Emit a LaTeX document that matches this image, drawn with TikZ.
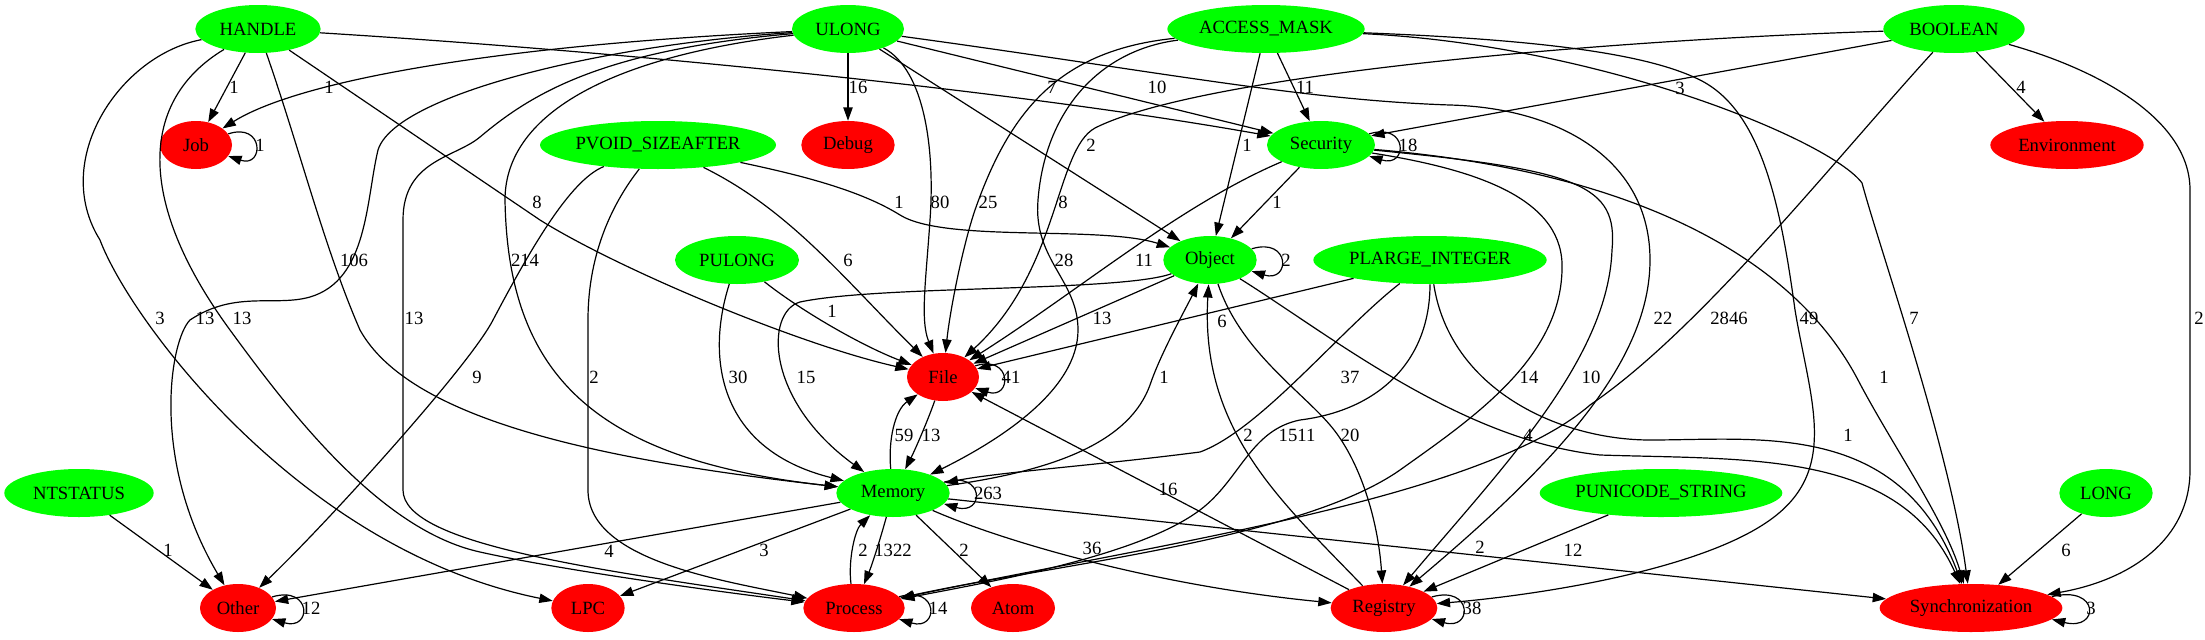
\documentclass[tikz,border=0pt]{standalone}
\usepackage{fontspec}
\setmainfont{Liberation Serif}
\usetikzlibrary{shapes.geometric,arrows.meta}
\definecolor{gvgreen}{RGB}{0,255,0}
\definecolor{gvred}{RGB}{255,0,0}
\tikzset{
  kind/.style={ellipse,minimum height=36pt,inner sep=0pt,font=\fontsize{14pt}{16pt}\selectfont},
  typ/.style={kind,fill=gvgreen},
  cat/.style={kind,fill=gvred},
  dep/.style={line width=0.9pt,-{Triangle[length=10pt,width=7pt]}},
  num/.style={inner sep=0pt,font=\fontsize{14pt}{16pt}\selectfont},
}
\begin{document}
\begin{tikzpicture}[x=0.75pt,y=-0.75pt]
\useasboundingbox (0,0) rectangle (2205,639);

% types (green) and categories (red), one row per rank
\node[typ,minimum width=94pt] (handle) at (258,29) {HANDLE};
\node[typ,minimum width=84pt] (ulong) at (848,29) {ULONG};
\node[typ,minimum width=148pt] (accessmask) at (1266,29) {ACCESS\_MASK};
\node[typ,minimum width=106pt] (boolean) at (1954,29) {BOOLEAN};

\node[cat,minimum width=54pt] (job) at (196,145) {Job};
\node[typ,minimum width=177pt] (pvoid) at (658,145) {PVOID\_SIZEAFTER};
\node[cat,minimum width=70pt] (debug) at (848,145) {Debug};
\node[typ,minimum width=81pt] (security) at (1321,145) {Security};
\node[cat,minimum width=115pt] (environment) at (2067,145) {Environment};

\node[typ,minimum width=93pt] (pulong) at (737,260) {PULONG};
\node[typ,minimum width=70pt] (object) at (1210,260) {Object};
\node[typ,minimum width=175pt] (plarge) at (1430,260) {PLARGE\_INTEGER};

\node[cat,minimum width=54pt] (file) at (943,377) {File};

\node[typ,minimum width=112pt] (ntstatus) at (79,493) {NTSTATUS};
\node[typ,minimum width=85pt] (memory) at (893,493) {Memory};
\node[typ,minimum width=182pt] (punicode) at (1661,493) {PUNICODE\_STRING};
\node[typ,minimum width=70pt] (long) at (2106,493) {LONG};

\node[cat,minimum width=57pt] (other) at (238,608) {Other};
\node[cat,minimum width=55pt] (lpc) at (588,608) {LPC};
\node[cat,minimum width=76pt] (process) at (854,608) {Process};
\node[cat,minimum width=63pt] (atom) at (1013,608) {Atom};
\node[cat,minimum width=80pt] (registry) at (1384,608) {Registry};
\node[cat,minimum width=137pt] (sync) at (1971,608) {Synchronization};

% HANDLE
\draw[dep] (handle) -- (job) node[num] (l1) at (234,87) {1};
\draw[dep] (handle) .. controls (600,50) and (1000,88) .. (security) node[num] (l2) at (1052,87) {7};
\draw[dep] (handle) -- (540,220) .. controls (620,270) and (800,345) .. (file) node[num] (l3) at (537,202) {8};
\draw[dep] (handle) .. controls (300,150) and (325,250) .. (360,330) .. controls (410,420) and (600,460) .. (memory) node[num] (l4) at (354,260) {106};
\draw[dep] (handle) .. controls (120,55) and (50,160) .. (100,240) .. controls (130,320) and (300,550) .. (lpc) node[num] (l5) at (160,318) {3};
\draw[dep] (handle) .. controls (140,100) and (135,200) .. (230,330) .. controls (290,412) and (380,530) .. (480,552) .. controls (560,570) and (720,592) .. (process) node[num] (l6) at (242,318) {13};

% ULONG
\draw[dep] (ulong) .. controls (500,45) and (300,80) .. (job) node[num] (l7) at (329,87) {1};
\draw[dep] (ulong) .. controls (600,45) and (395,95) .. (378,150) .. controls (366,200) and (368,280) .. (310,297) .. controls (275,307) and (235,290) .. (190,320) .. controls (170,340) and (150,460) .. (other) node[num] (l8) at (205,318) {13};
\draw[dep] (ulong) .. controls (620,55) and (505,110) .. (505,200) .. controls (508,380) and (600,460) .. (memory) node[num] (l9) at (525,260) {214};
\draw[dep] (ulong) .. controls (600,50) and (530,95) .. (480,137) .. controls (455,158) and (403,160) .. (403,220) -- (403,490) .. controls (403,545) and (600,570) .. (process) node[num] (l10) at (414,318) {13};
\draw[dep] (ulong) -- (debug) node[num] (l11) at (858,87) {16};
\draw[dep] (ulong) .. controls (925,70) and (935,150) .. (930,220) .. controls (926,280) and (920,320) .. (file) node[num] (l12) at (940,202) {80};
\draw[dep] (ulong) -- (object) node[num] (l13) at (1091,145) {2};
\draw[dep] (ulong) -- (security) node[num] (l14) at (1157,87) {10};
\draw[dep] (ulong) .. controls (1150,70) and (1300,100) .. (1450,105) .. controls (1560,108) and (1650,160) .. (1650,260) .. controls (1650,360) and (1560,460) .. (registry) node[num] (l15) at (1663,318) {22};

% ACCESS_MASK
\draw[dep] (accessmask) -- (security) node[num] (l16) at (1305,87) {11};
\draw[dep] (accessmask) -- (object) node[num] (l17) at (1247,145) {1};
\draw[dep] (accessmask) .. controls (1060,50) and (1010,110) .. (975,210) .. controls (963,245) and (950,310) .. (file) node[num] (l18) at (988,202) {25};
\draw[dep] (accessmask) .. controls (1100,50) and (1045,110) .. (1038,200) .. controls (1033,260) and (1078,280) .. (1078,330) .. controls (1078,390) and (1000,440) .. (memory) node[num] (l19) at (1064,260) {28};
\draw[dep] (accessmask) .. controls (1550,40) and (1650,55) .. (1700,80) .. controls (1760,110) and (1780,200) .. (1795,310) .. controls (1810,400) and (1840,470) .. (1770,520) .. controls (1700,570) and (1540,595) .. (registry) node[num] (l20) at (1809,318) {49};
\draw[dep] (accessmask) .. controls (1600,45) and (1830,140) .. (1862,183) .. controls (1880,250) and (1950,450) .. (sync) node[num] (l21) at (1914,318) {7};

% BOOLEAN
\draw[dep] (boolean) -- (security) node[num] (l22) at (1680,88) {3};
\draw[dep] (boolean) -- (environment) node[num] (l23) at (2021,87) {4};
\draw[dep] (boolean) .. controls (1600,40) and (1200,75) .. (1095,128) .. controls (1055,150) and (1060,270) .. (file) node[num] (l24) at (1063,202) {8};
\draw[dep] (boolean) .. controls (1830,165) and (1700,330) .. (1590,405) .. controls (1480,500) and (1150,545) .. (process) node[num] (l25) at (1729,318) {2846};
\draw[dep] (boolean) .. controls (2100,70) and (2190,120) .. (2190,190) -- (2190,470) .. controls (2190,540) and (2130,580) .. (sync) node[num] (l26) at (2199,318) {2};

% self loops
\draw[dep] (job.19) .. controls +(36,-12) and +(36,12) .. (job.-19) node[num] (l27) at (260,145) {1};
\draw[dep] (security.13) .. controls +(39,-12) and +(39,12) .. (security.-13) node[num] (l28) at (1408,145) {18};
\draw[dep] (object.15) .. controls +(39,-12) and +(39,12) .. (object.-15) node[num] (l29) at (1286,260) {2};
\draw[dep] (file.19) .. controls +(37,-12) and +(37,12) .. (file.-19) node[num] (l30) at (1011,377) {41};
\draw[dep] (memory.12) .. controls +(41,-12) and +(41,12) .. (memory.-12) node[num] (l31) at (988,493) {263};
\draw[dep] (other.18) .. controls +(40,-12) and +(40,12) .. (other.-18) node[num] (l32) at (311,608) {12};
\draw[dep] (process.14) .. controls +(40,-12) and +(40,12) .. (process.-14) node[num] (l33) at (938,608) {14};
\draw[dep] (registry.13) .. controls +(41,-12) and +(41,12) .. (registry.-13) node[num] (l34) at (1472,608) {38};
\draw[dep] (sync.8) .. controls +(48,-12) and +(48,12) .. (sync.-8) node[num] (l35) at (2091,608) {3};

% PVOID_SIZEAFTER
\draw[dep] (pvoid) .. controls (800,175) and (860,190) .. (900,215) .. controls (945,243) and (1100,225) .. (object) node[num] (l36) at (899,202) {1};
\draw[dep] (pvoid) .. controls (790,210) and (845,280) .. (file) node[num] (l37) at (848,260) {6};
\draw[dep] (pvoid) .. controls (570,180) and (530,250) .. (493,320) .. controls (470,365) and (330,520) .. (other) node[num] (l38) at (477,377) {9};
\draw[dep] (pvoid) .. controls (615,200) and (588,250) .. (588,320) -- (588,490) .. controls (588,560) and (720,580) .. (process) node[num] (l39) at (594,377) {2};

% Security
\draw[dep] (security) -- (object) node[num] (l40) at (1277,202) {1};
\draw[dep] (security) .. controls (1180,205) and (1080,290) .. (file) node[num] (l41) at (1144,260) {11};
\draw[dep] (security) .. controls (1480,170) and (1565,200) .. (1562,270) .. controls (1560,360) and (1470,420) .. (1400,470) .. controls (1300,540) and (1050,565) .. (process) node[num] (l42) at (1529,377) {14};
\draw[dep] (security) .. controls (1580,170) and (1618,185) .. (1612,250) .. controls (1608,360) and (1500,470) .. (registry) node[num] (l43) at (1591,377) {10};
\draw[dep] (security) .. controls (1620,170) and (1790,250) .. (1858,380) .. controls (1892,445) and (1945,520) .. (sync) node[num] (l44) at (1884,377) {1};

% Object
\draw[dep] (object) -- (file) node[num] (l45) at (1102,318) {13};
\draw[dep] (object) .. controls (1120,292) and (880,285) .. (800,302) .. controls (765,312) and (765,400) .. (memory) node[num] (l46) at (806,377) {15};
\draw[dep] (object) .. controls (1240,350) and (1300,390) .. (1330,425) .. controls (1360,460) and (1378,520) .. (registry) node[num] (l47) at (1350,435) {20};
\draw[dep] (object) .. controls (1330,335) and (1460,440) .. (1600,455) .. controls (1750,460) and (1900,450) .. (sync) node[num] (l48) at (1528,435) {4};

% PULONG and PLARGE_INTEGER
\draw[dep] (pulong) .. controls (800,310) and (860,345) .. (file) node[num] (l49) at (832,311) {1};
\draw[dep] (pulong) .. controls (705,360) and (720,450) .. (memory) node[num] (l50) at (738,377) {30};
\draw[dep] (plarge) -- (file) node[num] (l51) at (1222,321) {6};
\draw[dep] (plarge) .. controls (1340,330) and (1260,430) .. (1200,452) .. controls (1100,465) and (1000,472) .. (memory) node[num] (l52) at (1350,377) {37};
\draw[dep] (plarge) .. controls (1430,360) and (1380,410) .. (1300,420) .. controls (1250,430) and (1240,480) .. (1200,510) .. controls (1140,555) and (1000,580) .. (process) node[num] (l53) at (1297,435) {1511};
\draw[dep] (plarge) .. controls (1450,390) and (1560,440) .. (1650,440) .. controls (1760,440) and (1900,420) .. (sync) node[num] (l54) at (1848,435) {1};

% File, Memory, Registry
\draw[dep] (file) .. controls (928,420) and (915,450) .. (memory) node[num] (l55) at (931,435) {13};
\draw[dep] (memory) .. controls (888,440) and (895,410) .. (file) node[num] (l56) at (904,435) {59};
\draw[dep] (memory) .. controls (1060,470) and (1130,440) .. (1150,385) .. controls (1160,355) and (1185,310) .. (object) node[num] (l57) at (1164,377) {1};
\draw[dep] (registry) .. controls (1280,500) and (1200,430) .. (object) node[num] (l58) at (1248,435) {2};
\draw[dep] (registry) -- (file) node[num] (l59) at (1168,489) {16};

\draw[dep] (ntstatus) -- (other) node[num] (l60) at (168,550) {1};
\draw[dep] (memory) -- (other) node[num] (l61) at (609,551) {4};
\draw[dep] (memory) -- (lpc) node[num] (l62) at (764,550) {3};
\draw[dep] (process) .. controls (848,560) and (855,530) .. (memory) node[num] (l63) at (863,550) {2};
\draw[dep] (memory) .. controls (880,540) and (872,565) .. (process) node[num] (l64) at (893,550) {1322};
\draw[dep] (memory) -- (atom) node[num] (l65) at (964,550) {2};
\draw[dep] (memory) .. controls (1000,540) and (1150,585) .. (registry) node[num] (l66) at (1092,548) {36};
\draw[dep] (memory) -- (sync) node[num] (l67) at (1480,547) {2};
\draw[dep] (punicode) -- (registry) node[num] (l68) at (1573,550) {12};
\draw[dep] (long) -- (sync) node[num] (l69) at (2066,550) {6};
\end{tikzpicture}
\end{document}
